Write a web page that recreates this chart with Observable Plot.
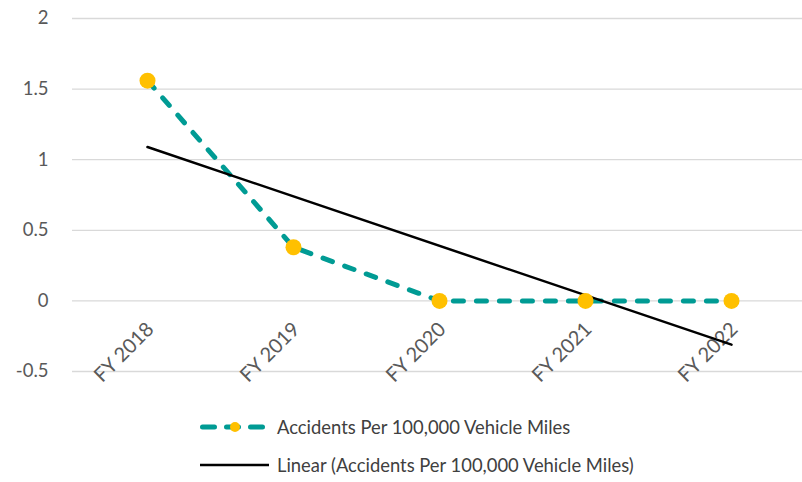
<!DOCTYPE html>
<html>
<head>
<meta charset="utf-8">
<script src="https://cdn.jsdelivr.net/npm/d3@7"></script>
<script src="https://cdn.jsdelivr.net/npm/@observablehq/plot@0.6"></script>
<style>
  body { margin: 0; background: #fff; font-family: Lato, "Open Sans", sans-serif; }
  #chart svg { display: block; }
  .legend { position: relative; height: 82px; font-size: 18.4px; color: #404040; }
  .item { position: absolute; left: 199px; display: flex; align-items: center; }
  .item svg { display: block; margin-right: 8px; }
</style>
</head>
<body>
<div id="chart"></div>
<div class="legend">
  <div class="item" style="top:16px">
    <svg width="70" height="20"><line x1="3.5" y1="10" x2="66" y2="10" stroke="#009b94" stroke-width="5" stroke-linecap="round" stroke-dasharray="12,12"/><circle cx="36" cy="10" r="5" fill="#ffc000"/></svg>
    <span>Accidents Per 100,000 Vehicle Miles</span>
  </div>
  <div class="item" style="top:54px">
    <svg width="70" height="20"><line x1="1" y1="10" x2="70" y2="10" stroke="#000" stroke-width="2.5"/></svg>
    <span>Linear (Accidents Per 100,000 Vehicle Miles)</span>
  </div>
</div>
<script>
const categories = ["FY 2018", "FY 2019", "FY 2020", "FY 2021", "FY 2022"];
const accidents = [1.56, 0.38, 0, 0, 0];
const trendCategories = ["FY 2018", "FY 2022"];
const trendValues = [1.09, -0.31];
const yTicks = [-0.5, 0, 0.5, 1, 1.5, 2];

const series = categories.map((c, i) => ({cat: c, value: accidents[i]}));
const trend = trendCategories.map((c, i) => ({cat: c, value: trendValues[i]}));

const chart = Plot.plot({
  width: 802,
  height: 400,
  marginTop: 18,
  marginBottom: 29,
  marginLeft: 72,
  marginRight: 0,
  style: {fontFamily: "Lato, 'Open Sans', sans-serif", fontSize: "18.5px", color: "#595959"},
  x: {type: "point", domain: categories, range: [145, 732], padding: 0, axis: null},
  y: {domain: [-0.5, 2], axis: null},
  marks: [
    Plot.gridY(yTicks, {stroke: "#d9d9d9", strokeOpacity: 1, strokeWidth: 1.3}),
    Plot.axisY(yTicks, {tickSize: 0, tickPadding: 24, fontSize: 18.5, fill: "#595959", label: null, tickFormat: d => String(d)}),
    Plot.text(categories, {x: d => d, y: () => 0, text: d => d, rotate: -45, textAnchor: "end", dx: 3, dy: 25, fontSize: 20, fill: "#595959"}),
    Plot.line(series, {x: "cat", y: "value", stroke: "#009b94", strokeWidth: 5, strokeDasharray: "10,13", strokeLinecap: "round"}),
    Plot.line(trend, {x: "cat", y: "value", stroke: "#000", strokeWidth: 2.5}),
    Plot.dot(series, {x: "cat", y: "value", r: 8, fill: "#ffc000", stroke: "none"})
  ]
});
document.getElementById("chart").appendChild(chart);
</script>
</body>
</html>
